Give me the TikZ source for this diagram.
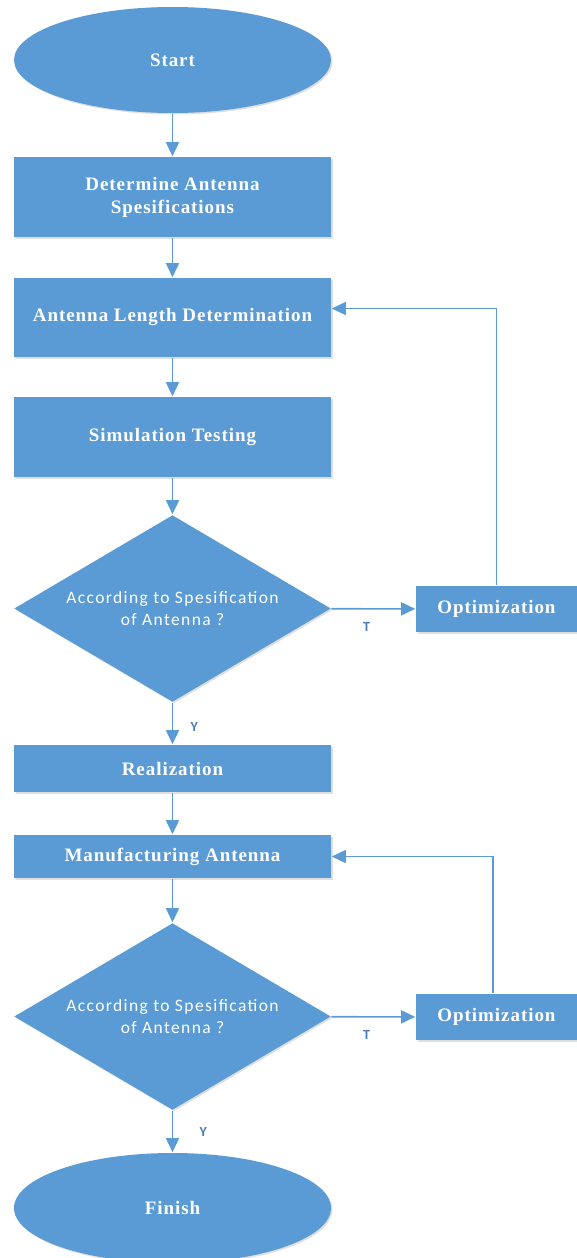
\documentclass[tikz,border=0pt]{standalone}
\usepackage{fontspec}
\setmainfont[LetterSpace=5]{Liberation Serif}
\newfontfamily\qfont[LetterSpace=8]{Carlito}
\newfontfamily\lblfont{Carlito}
\usetikzlibrary{arrows.meta,shapes.geometric,positioning,shadows}
\definecolor{boxblue}{HTML}{5B9BD5}
\definecolor{lblblue}{HTML}{4A7EBB}

\begin{document}
\begin{tikzpicture}[x=1pt,y=-1pt,->,>={Triangle[length=14pt,width=13pt]},line width=1.6pt,color=boxblue,
	boxshadow/.style={drop shadow={shadow xshift=1.5pt,shadow yshift=-1.5pt,opacity=0.25}},
	procbox/.style={rectangle,fill=boxblue,text=white,font=\bfseries\fontsize{19}{23}\selectfont,minimum width=317pt,inner sep=0pt,align=center,boxshadow},
	termnode/.style={ellipse,fill=boxblue,text=white,font=\bfseries\fontsize{19}{23}\selectfont,minimum width=317pt,inner sep=0pt,boxshadow},
	decnode/.style={diamond,aspect=1.7,fill=boxblue,text=white,font=\qfont\fontsize{17.5}{22}\selectfont,minimum width=317pt,minimum height=187pt,inner sep=0pt,align=center,boxshadow},
	sidebox/.style={procbox,minimum width=161pt,minimum height=46pt},
	lbl/.style={font=\lblfont\bfseries\fontsize{14}{14}\selectfont,text=lblblue}]
	
	\useasboundingbox (0,0) rectangle (577,1258);
	
	\node [termnode,minimum height=106pt] (start) at (172.5, 60) {Start};
	\node [procbox,minimum height=80pt] (spec) at (172.5, 197) {Determine Antenna\\Spesifications};
	\node [procbox,minimum height=79pt] (len) at (172.5, 317.5) {Antenna Length Determination};
	\node [procbox,minimum height=80pt] (sim) at (172.5, 437) {Simulation Testing};
	\node [decnode] (chk1) at (172.5, 608.5) {According to Spesification\\of Antenna ?};
	\node [sidebox] (opt1) at (496.5, 609) {Optimization};
	\node [procbox,minimum height=47pt] (real) at (172.5, 768.5) {Realization};
	\node [procbox,minimum height=43pt] (manu) at (172.5, 856.5) {Manufacturing Antenna};
	\node [decnode] (chk2) at (172.5, 1016.5) {According to Spesification\\of Antenna ?};
	\node [sidebox] (opt2) at (496.5, 1017) {Optimization};
	\node [termnode,minimum height=110pt] (finish) at (172.5, 1208) {Finish};
	
	\draw (start) to (spec);
	\draw (spec) to (len);
	\draw (len) to (sim);
	\draw (sim) to (chk1);
	\draw (chk1) to node [lbl,pos=0.42,below=9pt] {T} (opt1);
	\draw (chk1) to node [lbl,right=14pt,yshift=-3pt] {Y} (real);
	\draw (opt1.north) |- ([yshift=9pt]len.east);
	\draw (real) to (manu);
	\draw (manu) to (chk2);
	\draw (chk2) to node [lbl,pos=0.42,below=9pt] {T} (opt2);
	\draw (chk2) to node [lbl,right=23pt] {Y} (finish);
	\draw ([xshift=-3.5pt]opt2.north) |- (manu.east);
\end{tikzpicture}
\end{document}
